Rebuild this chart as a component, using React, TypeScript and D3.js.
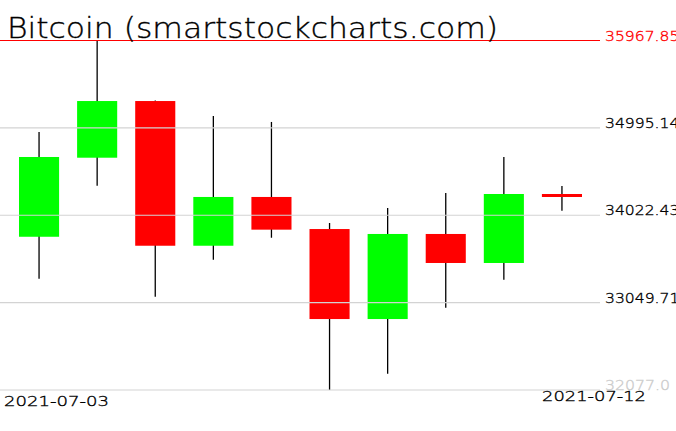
import React, { useEffect, useRef } from 'react';
import * as d3 from 'd3';

// daily candles
const dates = [
    '2021-07-03', '2021-07-04', '2021-07-05', '2021-07-06', '2021-07-07',
    '2021-07-08', '2021-07-09', '2021-07-10', '2021-07-11', '2021-07-12',
];
const opens = [33783, 34663, 35294, 33683, 34226, 33869, 32867, 33814, 33491, 34259];
const closes = [34671, 35294, 33683, 34226, 33862, 32867, 33814, 33491, 34259, 34228];
const highs = [34949, 35967.85, 35300, 35127, 35061, 33936, 34103, 34270, 34671, 34348];
const lows = [33316, 34351, 33116, 33528, 33772, 32077.0, 32258, 32993, 33305, 34073];

// price labels on the right
const priceLabels = ['35967.85', '34995.14', '34022.43', '33049.71', '32077.0'];
const dateLabels = ['2021-07-03', '2021-07-12'];

const title = 'Bitcoin (smartstockcharts.com)';

const WIDTH = 676;
const HEIGHT = 431;
const FONT = '"DejaVu Sans", "Liberation Sans", sans-serif';

// thin stroke font, darkened a bit with an outline
const addText = (svg, x, y, size, len, colour, str) => svg.append('text')
    .attr('x', x)
    .attr('y', y)
    .attr('font-family', FONT)
    .attr('font-weight', 200)
    .attr('font-size', size)
    .attr('textLength', len)
    .attr('lengthAdjust', 'spacingAndGlyphs')
    .attr('fill', colour)
    .attr('stroke', colour)
    .attr('stroke-width', 0.35)
    .text(str);

const drawChart = (node: SVGSVGElement) => {
    const svg = d3.select(node);
    svg.selectAll('*').remove();

    const y = d3.scaleLinear()
        .domain([32077.0, 35967.85])
        .range([390, 40.5]);

    const x = d3.scaleBand()
        .domain(dates)
        .range([10, 591])
        .paddingInner(0.31)
        .paddingOuter(0.155);

    const candles = dates.map((d, i) => ({
        date: d, open: opens[i], close: closes[i], high: highs[i], low: lows[i],
    }));

    // wicks
    svg.append('g')
        .selectAll('line')
        .data(candles)
        .enter()
        .append('line')
        .attr('x1', (d) => (x(d.date) as number) + x.bandwidth() / 2)
        .attr('x2', (d) => (x(d.date) as number) + x.bandwidth() / 2)
        .attr('y1', (d) => y(d.high))
        .attr('y2', (d) => y(d.low))
        .attr('stroke', 'black')
        .attr('stroke-width', 1.3);

    // bodies
    svg.append('g')
        .selectAll('rect')
        .data(candles)
        .enter()
        .append('rect')
        .attr('x', (d) => x(d.date) as number)
        .attr('width', x.bandwidth())
        .attr('y', (d) => y(Math.max(d.open, d.close)))
        .attr('height', (d) => Math.max(3, Math.abs(y(d.open) - y(d.close))))
        .attr('fill', (d) => (d.close >= d.open ? '#00ff00' : '#ff0000'));

    // grid lines drawn over the candles
    svg.append('g')
        .selectAll('line')
        .data(priceLabels.slice(1))
        .enter()
        .append('line')
        .attr('x1', 0)
        .attr('x2', 600)
        .attr('y1', (d) => y(+d))
        .attr('y2', (d) => y(+d))
        .attr('stroke', '#d3d3d3')
        .attr('stroke-width', 1.2);

    // red line at the top price
    svg.append('line')
        .attr('x1', 0)
        .attr('x2', 600)
        .attr('y1', y(+priceLabels[0]))
        .attr('y2', y(+priceLabels[0]))
        .attr('stroke', 'red')
        .attr('stroke-width', 1.2);

    // price labels
    priceLabels.forEach((d, i) => {
        let colour = 'black';
        if (i === 0) colour = 'red';
        if (i === priceLabels.length - 1) colour = '#cccccc';
        addText(svg, 605, y(+d), 14, d.length * 9.3, colour, d);
    });

    // date labels
    addText(svg, 4, 406, 14, 105, 'black', dateLabels[0]);
    addText(svg, 542, 401, 14, 104, 'black', dateLabels[1]);

    // title
    addText(svg, 7, 37.7, 29, 491, 'black', title);
};

const App = () => {
    const ref = useRef<SVGSVGElement>(null);

    useEffect(() => {
        document.body.style.margin = '0';
        if (ref.current) drawChart(ref.current);
    }, []);

    return (
        <svg
            ref={ref}
            width={WIDTH}
            height={HEIGHT}
            style={{ display: 'block', background: 'white' }}
        />
    );
};

export default App;
